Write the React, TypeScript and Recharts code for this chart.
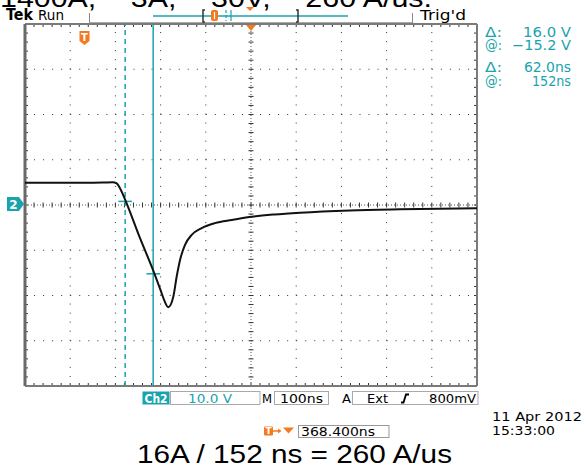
import React from 'react';
import { ComposedChart, Line, XAxis, YAxis, ReferenceLine } from 'recharts';

// time relative to trigger (ns), screen centre sits at 368.4 ns
const timeNs = [-131.6, -60, 0, 40, 62, 71.3, 78.6, 91.9, 120, 154.5, 170.8, 177, 185.4, 196.5, 204, 211.3, 222.4, 237.2, 259.3, 288.8, 325.7, 370, 420, 476.8, 587.4, 698, 868.4];
// Ch2 volts
const volts = [4.9, 4.9, 4.9, 4.95, 5.05, 4.8, 3.7, 0.7, -6.6, -15.1, -19.5, -21.2, -22.6, -20.3, -15.8, -12.2, -8.8, -6.6, -5.1, -4.0, -3.3, -2.6, -2.1, -1.7, -1.2, -0.95, -0.73];

const cursorTimes = [90, 152];
const cursorVolts = [0.8, -15.2];

const xDomain: [number, number] = [-131.6, 868.4];
const yDomain: [number, number] = [-40, 40];
const divTime = 100;
const divVolt = 10;

const readoutLabels = ['Δ:', '@:', 'Δ:', '@:'];
const readoutValues = ['16.0 V', '−15.2 V', '62.0ns', '152ns'];

const TEAL = '#1aa3ac';
const ORANGE = '#f47a1f';
const SCOPE_FONT = '"DejaVu Sans", sans-serif';

const data = timeNs.map((t, i) => ({ t, v: volts[i] }));

const centreT = (xDomain[0] + xDomain[1]) / 2;
const majorT: number[] = [];
for (let k = 1; k < 10; k++) majorT.push(xDomain[0] + k * divTime);
const majorV: number[] = [];
for (let k = 1; k < 8; k++) majorV.push(yDomain[0] + k * divVolt);
const minorT: number[] = [];
for (let k = 0; k <= 50; k++) minorT.push(xDomain[0] + k * (divTime / 5));
const minorV: number[] = [];
for (let k = 0; k <= 40; k++) minorV.push(yDomain[0] + k * (divVolt / 5));

// tick lengths in data units (~3px)
const tickT = 6.6;
const tickV = 0.66;

const Txt = ({ x, y, w, size, fill = '#000', weight = 400, anchor = 'start', family = SCOPE_FONT, children }: any) => (
  <text
    x={x}
    y={y}
    fontSize={size}
    fill={fill}
    fontWeight={weight}
    textAnchor={anchor}
    fontFamily={family}
    textLength={w}
    lengthAdjust={w ? 'spacingAndGlyphs' : undefined}
  >
    {children}
  </text>
);

const App: React.FC = () => {
  return (
    <div style={{ position: 'absolute', left: 0, top: 0, width: 582, height: 469, background: '#fff', overflow: 'hidden' }}>
      <div style={{ position: 'absolute', left: 0, top: 0 }}>
        <ComposedChart width={582} height={469} data={data} margin={{ top: 24, left: 25, right: 105, bottom: 83 }}>
          <XAxis type="number" dataKey="t" domain={xDomain} hide allowDataOverflow />
          <YAxis type="number" domain={yDomain} hide allowDataOverflow />

          {majorT.filter((t) => Math.abs(t - centreT) > 1).map((t) => (
            <ReferenceLine key={'gx' + t} x={t} stroke="#333" strokeDasharray="1 8.05" />
          ))}
          {majorV.filter((v) => v !== 0).map((v) => (
            <ReferenceLine key={'gy' + v} y={v} stroke="#333" strokeDasharray="1 8.04" />
          ))}

          <ReferenceLine x={centreT} stroke="#555" strokeDasharray="1 2" />
          <ReferenceLine y={0} stroke="#555" strokeDasharray="1 2" />
          {minorT.map((t) => (
            <ReferenceLine key={'cx' + t} segment={[{ x: t, y: -0.55 }, { x: t, y: 0.55 }]} stroke="#333" />
          ))}
          {minorV.map((v) => (
            <ReferenceLine key={'cy' + v} segment={[{ x: centreT - 5.5, y: v }, { x: centreT + 5.5, y: v }]} stroke="#333" />
          ))}

          {minorT.map((t) => (
            <ReferenceLine key={'tt' + t} segment={[{ x: t, y: yDomain[1] }, { x: t, y: yDomain[1] - tickV }]} stroke="#333" />
          ))}
          {minorT.map((t) => (
            <ReferenceLine key={'tb' + t} segment={[{ x: t, y: yDomain[0] }, { x: t, y: yDomain[0] + tickV }]} stroke="#333" />
          ))}
          {minorV.map((v) => (
            <ReferenceLine key={'tl' + v} segment={[{ x: xDomain[0], y: v }, { x: xDomain[0] + tickT, y: v }]} stroke="#333" />
          ))}
          {minorV.map((v) => (
            <ReferenceLine key={'tr' + v} segment={[{ x: xDomain[1], y: v }, { x: xDomain[1] - tickT, y: v }]} stroke="#333" />
          ))}

          <ReferenceLine y={yDomain[1]} stroke="#7a7a7a" strokeWidth={2} />
          <ReferenceLine y={yDomain[0]} stroke="#7a7a7a" strokeWidth={2} />
          <ReferenceLine x={xDomain[1]} stroke="#7a7a7a" strokeWidth={2} />
          <ReferenceLine x={xDomain[0]} stroke="#6a6a6a" strokeWidth={3} />

          <ReferenceLine x={cursorTimes[0]} stroke={TEAL} strokeWidth={1.5} strokeDasharray="5 4" />
          <ReferenceLine x={cursorTimes[1]} stroke={TEAL} strokeWidth={1.5} />
          {cursorTimes.map((t, i) => (
            <ReferenceLine key={'cm' + i} segment={[{ x: t - 15, y: cursorVolts[i] }, { x: t + 15, y: cursorVolts[i] }]} stroke={TEAL} strokeWidth={1.5} />
          ))}

          <Line type="monotone" dataKey="v" stroke="#111" strokeWidth={2} dot={false} isAnimationActive={false} />
        </ComposedChart>
      </div>

      <svg width={582} height={469} style={{ position: 'absolute', left: 0, top: 0, pointerEvents: 'none' }}>
        {/* clipped title at the very top */}
        <Txt x={0} y={7} w={432} size={26} family='"Liberation Sans", Arial, sans-serif'>1400A, ~ 3A, ~ 30V, ~ 260 A/us.</Txt>

        {/* header */}
        <Txt x={6} y={20} w={27} size={15} weight={700}>Tek</Txt>
        <Txt x={38} y={20} w={26} size={14}>Run</Txt>
        <line x1={89.5} y1={13} x2={89.5} y2={23} stroke="#888" />
        <line x1={89.5} y1={22.5} x2={412} y2={22.5} stroke="#aaa" />
        <line x1={412.5} y1={13} x2={412.5} y2={23} stroke="#888" />
        <Txt x={420} y={20} w={46} size={14}>Trig'd</Txt>

        <line x1={153} y1={16} x2={348} y2={16} stroke={TEAL} strokeWidth={1.5} />
        <path d="M205 10 h-2 v12 h2" stroke="#333" fill="none" strokeWidth={1.5} />
        <path d="M296 10 h2 v12 h-2" stroke="#333" fill="none" strokeWidth={1.5} />
        <rect x={211} y={10} width={7} height={11} rx={2} fill={ORANGE} />
        <line x1={214.5} y1={12} x2={214.5} y2={19} stroke="#fff" strokeWidth={1.2} />
        <line x1={226} y1={10} x2={226} y2={21} stroke={TEAL} strokeWidth={1.2} strokeDasharray="3 2" />
        <line x1={231} y1={10} x2={231} y2={21} stroke={TEAL} strokeWidth={1.2} />
        <path d="M246 7 L254 7 L250 11 Z" fill={ORANGE} />

        {/* markers on the graticule */}
        <path d="M79.5 31 h10 v10 l-5 4 l-5 -4 Z" fill={ORANGE} />
        <Txt x={84.5} y={40.5} size={10} weight={700} fill="#fff" anchor="middle">T</Txt>
        <path d="M246 25 L256 25 L251 31 Z" fill={ORANGE} />
        <path d="M7 197 h12 l5 7 l-5 7 h-12 Z" fill={TEAL} />
        <Txt x={13.5} y={208.5} size={12} weight={700} fill="#fff" anchor="middle">2</Txt>

        {/* cursor readouts */}
        {readoutLabels.map((l, i) => {
          const y = [37, 50, 72, 86][i];
          const w = [48, 59, 47, 39][i];
          return (
            <g key={'ro' + i}>
              <Txt x={485} y={y} w={17} size={14} fill={TEAL}>{l}</Txt>
              <Txt x={571} y={y} w={w} size={14} fill={TEAL} anchor="end">{readoutValues[i]}</Txt>
            </g>
          );
        })}

        {/* bottom status bar */}
        <rect x={142.5} y={391.5} width={27} height={13} fill={TEAL} />
        <Txt x={156} y={403} w={23} size={13} weight={700} fill="#fff" anchor="middle">Ch2</Txt>
        <rect x={170.5} y={391.5} width={89.5} height={13} fill="none" stroke="#aaa" />
        <Txt x={188} y={403} w={44} size={13} fill={TEAL}>10.0 V</Txt>
        <Txt x={262} y={403} w={10} size={13}>M</Txt>
        <rect x={274.5} y={391.5} width={54} height={13} fill="none" stroke="#aaa" />
        <Txt x={280} y={403} w={43} size={13}>100ns</Txt>
        <Txt x={342} y={403} w={9} size={13}>A</Txt>
        <rect x={352.5} y={391.5} width={125.5} height={13} fill="none" stroke="#aaa" />
        <Txt x={367} y={403} w={21} size={13}>Ext</Txt>
        <path d="M401 402.5 h2.5 l2.5 -8 h3" stroke="#000" fill="none" strokeWidth={1.8} />
        <Txt x={429} y={403} w={47} size={13}>800mV</Txt>

        <Txt x={492} y={420.5} w={90} size={12.5}>11 Apr 2012</Txt>
        <Txt x={492} y={435} w={63} size={12.5}>15:33:00</Txt>

        <rect x={264} y={426.5} width={9} height={9} rx={1} fill={ORANGE} />
        <Txt x={268.5} y={434} size={9} weight={700} fill="#fff" anchor="middle">T</Txt>
        <line x1={273} y1={431} x2={279} y2={431} stroke={ORANGE} strokeWidth={1.5} />
        <path d="M278 428.5 L281.5 431 L278 433.5 Z" fill={ORANGE} />
        <path d="M283 427.5 L294 427.5 L288.5 433.5 Z" fill={ORANGE} />
        <rect x={298.5} y={425.5} width={90.5} height={12} fill="none" stroke="#999" />
        <Txt x={301} y={436} w={74} size={12.5}>368.400ns</Txt>

        <Txt x={137} y={463} w={315} size={26} family='"Liberation Sans", Arial, sans-serif'>16A / 152 ns = 260 A/us</Txt>
      </svg>
    </div>
  );
};

export default App;
